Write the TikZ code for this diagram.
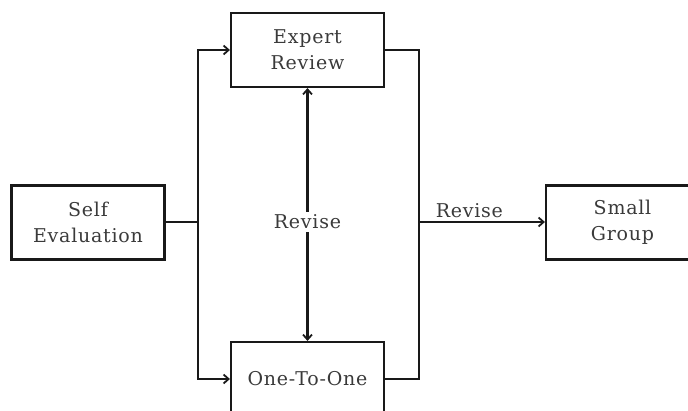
\documentclass[tikz,border=0pt]{standalone}
\usepackage{fontspec}
\setmainfont[LetterSpace=4]{DejaVu Serif}
\usetikzlibrary{arrows.meta}
\definecolor{txt}{HTML}{3A3A3A}
\begin{document}
\begin{tikzpicture}[x=1pt,y=-1pt,
  box/.style={draw=black!90, line width=2.2pt, minimum width=153pt, minimum height=74pt, align=center, inner sep=0pt, font=\fontsize{19}{26}\selectfont, text=txt},
  conn/.style={draw=black!90, line width=2.2pt},
  tip/.tip={Straight Barb[length=5pt,width=9pt,line width=1.8pt]},
  arr/.style={conn, -tip},
  lbl/.style={font=\fontsize{19}{26}\selectfont, text=txt, inner sep=2pt}]
\useasboundingbox (0,0) rectangle (688,411);
\clip (0,0) rectangle (688,411);
\node[box] (self) at (88,222.5) {Self\\Evaluation};
\node[box] (expert) at (307.5,50) {Expert\\Review};
\node[box] (one) at (307.5,379) {One-To-One};
\node[box] (small) at (622.5,222.5) {Small\\Group};
\coordinate (jl) at (198,222);
\coordinate (jr) at (419,222);
\coordinate (mid) at (307.5,222);
\draw[conn] (self.east |- jl) -- (jl);
\draw[arr] (jl) |- (expert.west);
\draw[arr] (jl) |- (one.west);
\draw[conn] (expert.east) -| (jr);
\draw[conn] (one.east) -| (jr);
\draw[arr] (jr) -- node[lbl, above=1pt, pos=0.4] {Revise} (small.west |- jr);
\node[lbl, fill=white, inner sep=3pt] (rev) at (mid) {Revise};
\draw[arr] (rev.north) -- (expert.south);
\draw[arr] (rev.south) -- (one.north);
\end{tikzpicture}
\end{document}
